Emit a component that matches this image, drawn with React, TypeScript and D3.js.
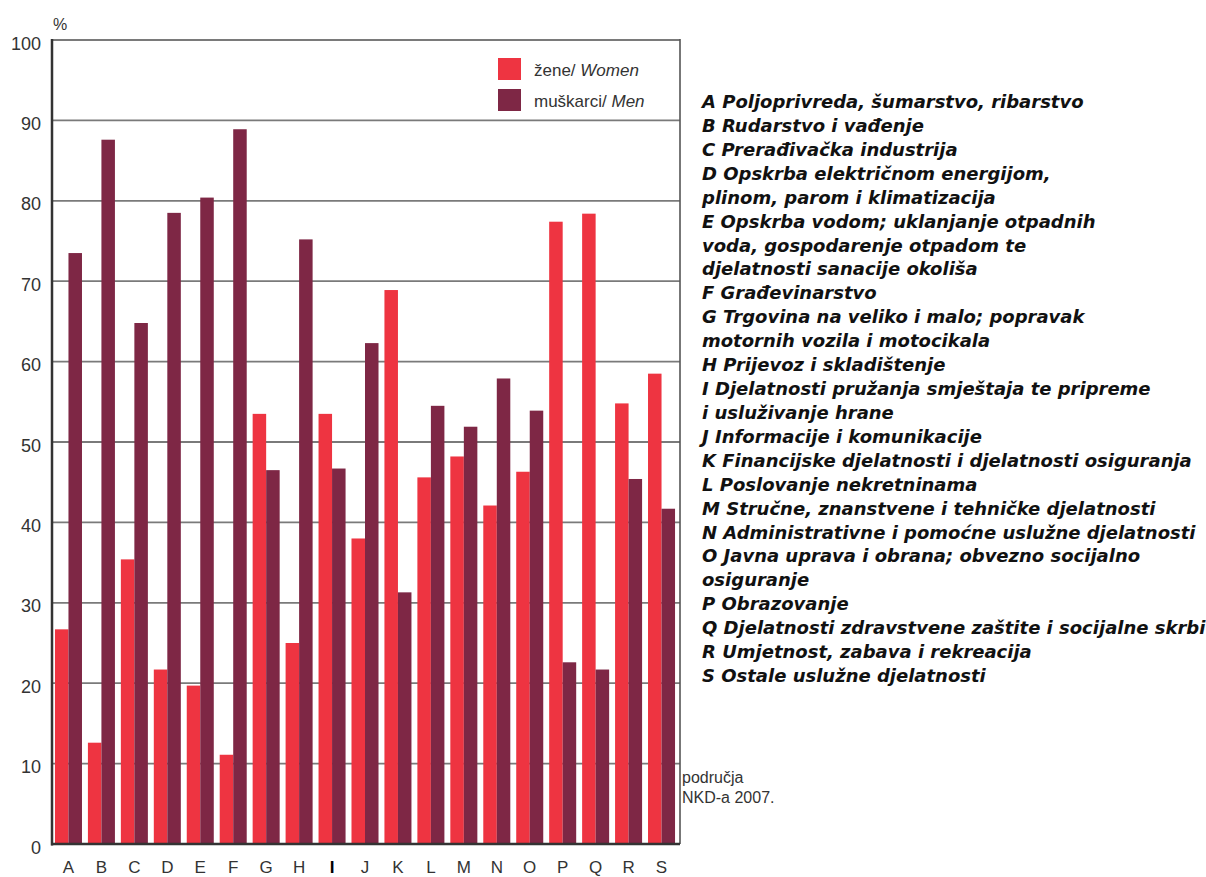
import React from "react";
import * as d3 from "d3";

const categories = ["A","B","C","D","E","F","G","H","I","J","K","L","M","N","O","P","Q","R","S"];
const women = [26.7,12.6,35.4,21.7,19.7,11.1,53.5,25.0,53.5,38.0,68.9,45.6,48.2,42.1,46.3,77.4,78.4,54.8,58.5];
const men = [73.5,87.6,64.8,78.5,80.4,88.9,46.5,75.2,46.7,62.3,31.3,54.5,51.9,57.9,53.9,22.6,21.7,45.4,41.7];
const yTicks = [0,10,20,30,40,50,60,70,80,90,100];
const seriesNames = ["women","men"];
const legendItems = [
  { key: "women", plain: "žene/ ", italic: "Women" },
  { key: "men", plain: "muškarci/ ", italic: "Men" },
];
const descriptions = [
  "A Poljoprivreda, šumarstvo, ribarstvo",
  "B Rudarstvo i vađenje",
  "C Prerađivačka industrija",
  "D Opskrba električnom energijom,",
  "plinom, parom i klimatizacija",
  "E Opskrba vodom; uklanjanje otpadnih",
  "voda, gospodarenje otpadom te",
  "djelatnosti sanacije okoliša",
  "F Građevinarstvo",
  "G Trgovina na veliko i malo; popravak",
  "motornih vozila i motocikala",
  "H Prijevoz i skladištenje",
  "I Djelatnosti pružanja smještaja te pripreme",
  "i usluživanje hrane",
  "J Informacije i komunikacije",
  "K Financijske djelatnosti i djelatnosti osiguranja",
  "L Poslovanje nekretninama",
  "M Stručne, znanstvene i tehničke djelatnosti",
  "N Administrativne i pomoćne uslužne djelatnosti",
  "O Javna uprava i obrana; obvezno socijalno",
  "osiguranje",
  "P Obrazovanje",
  "Q Djelatnosti zdravstvene zaštite i socijalne skrbi",
  "R Umjetnost, zabava i rekreacija",
  "S Ostale uslužne djelatnosti",
];
const footnote = ["područja", "NKD-a 2007."];

const colors: Record<string, string> = { women: "#EE3441", men: "#7E2745" };

export default function App() {
  const W = 1206, H = 877;
  const left = 52, right = 680, top = 40, bottom = 844;
  const x = d3.scaleBand<string>().domain(categories).range([left, right - 2]).paddingInner(0.18).paddingOuter(0.09);
  const xs = d3.scaleBand<string>().domain(seriesNames).range([0, x.bandwidth()]).padding(0);
  const y = d3.scaleLinear().domain([0, 100]).range([bottom, top]);
  const data: Record<string, number[]> = { women, men };
  const tickFont = "'Liberation Sans', Arial, sans-serif";
  const descFont = "'DejaVu Sans', Verdana, sans-serif";

  return (
    <svg width={W} height={H} style={{ position: "absolute", left: 0, top: 0, background: "#fff" }}>
      {yTicks.filter(t => t > 0).map(t => (
        <line key={t} x1={left} x2={right} y1={y(t)} y2={y(t)} stroke="#7a7a7a" strokeWidth={t === 100 ? 2 : 1.8} />
      ))}
      {categories.map((c, i) => (
        <g key={c} transform={`translate(${x(c)},0)`}>
          {seriesNames.map(s => (
            <rect key={s} x={xs(s)} y={y(data[s][i])} width={xs.bandwidth()} height={y(0) - y(data[s][i])} fill={colors[s]} />
          ))}
        </g>
      ))}
      <line x1={right} x2={right} y1={top - 1} y2={bottom} stroke="#555" strokeWidth={1.6} />
      <line x1={left} x2={left} y1={top - 1} y2={bottom + 1.5} stroke="#333" strokeWidth={2.5} />
      <line x1={left - 1} x2={right} y1={bottom} y2={bottom} stroke="#333" strokeWidth={2.5} />
      {yTicks.map(t => (
        <text key={t} x={41} y={y(t) + 9.5} textAnchor="end" fontFamily={tickFont} fontSize={18} fill="#333">{t}</text>
      ))}
      <text x={53} y={30} fontFamily={tickFont} fontSize={16} fill="#333">%</text>
      {categories.map(c => (
        <text key={c} x={(x(c) as number) + x.bandwidth() / 2} y={873} textAnchor="middle" fontFamily={tickFont}
          fontSize={17} fill={c === "I" ? "#000" : "#333"} fontWeight={c === "I" ? "bold" : "normal"}>{c}</text>
      ))}
      {legendItems.map((l, i) => (
        <g key={l.key} transform={`translate(498,${58 + i * 31})`}>
          <rect width={23} height={22} fill={colors[l.key]} />
          <text x={36} y={18} fontFamily={tickFont} fontSize={17} fill="#333">
            {l.plain}<tspan fontStyle="italic">{l.italic}</tspan>
          </text>
        </g>
      ))}
      {descriptions.map((d, i) => (
        <text key={i} x={702} y={108 + i * 23.92} fontFamily={descFont} fontSize={18} fontWeight="bold" fontStyle="italic" fill="#111">{d}</text>
      ))}
      {footnote.map((f, i) => (
        <text key={i} x={682} y={783 + i * 20} fontFamily={tickFont} fontSize={16} fill="#333">{f}</text>
      ))}
    </svg>
  );
}
